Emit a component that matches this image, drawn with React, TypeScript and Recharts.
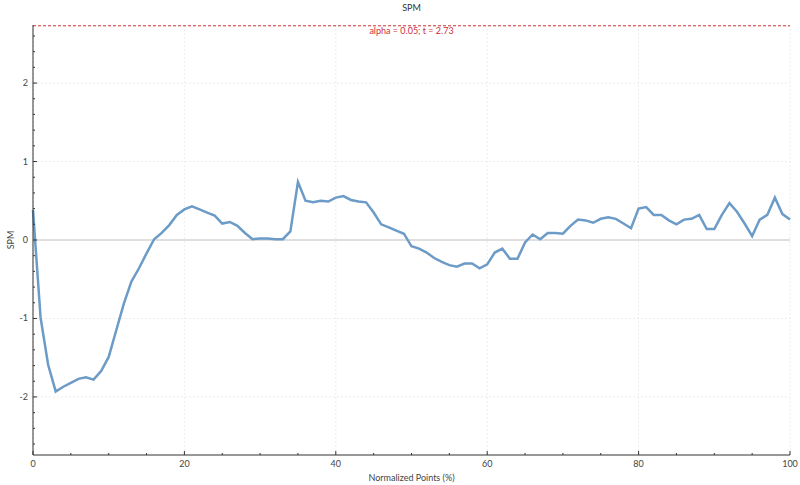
import React from 'react';
import { LineChart, Line, XAxis, YAxis, ReferenceLine } from 'recharts';

// SPM{t} trajectory, one value per normalized point (0..100 %)
const spmValues = [
  0.38, -0.99, -1.59, -1.93, -1.87, -1.82, -1.77, -1.75, -1.78, -1.67,
  -1.49, -1.15, -0.81, -0.53, -0.36, -0.17, 0.01, 0.09, 0.19, 0.32,
  0.39, 0.43, 0.39, 0.35, 0.31, 0.21, 0.23, 0.18, 0.09, 0.01,
  0.02, 0.02, 0.01, 0.01, 0.11, 0.74, 0.5, 0.48, 0.5, 0.49,
  0.54, 0.56, 0.51, 0.49, 0.48, 0.35, 0.2, 0.16, 0.12, 0.08,
  -0.08, -0.11, -0.16, -0.23, -0.28, -0.32, -0.34, -0.3, -0.3, -0.36,
  -0.31, -0.16, -0.11, -0.24, -0.24, -0.03, 0.07, 0.01, 0.09, 0.09,
  0.08, 0.18, 0.26, 0.25, 0.22, 0.27, 0.29, 0.27, 0.21, 0.15,
  0.4, 0.42, 0.32, 0.32, 0.25, 0.2, 0.26, 0.27, 0.32, 0.14,
  0.14, 0.32, 0.47, 0.36, 0.21, 0.05, 0.26, 0.32, 0.54, 0.33,
  0.26,
];

const xTicks = [0, 5, 10, 15, 20, 25, 30, 35, 40, 45, 50, 55, 60, 65, 70, 75, 80, 85, 90, 95, 100];
const xMajor = [0, 20, 40, 60, 80, 100];
const yTicks = [-2.6, -2.4, -2.2, -2, -1.8, -1.6, -1.4, -1.2, -1, -0.8, -0.6, -0.4, -0.2, 0,
  0.2, 0.4, 0.6, 0.8, 1, 1.2, 1.4, 1.6, 1.8, 2, 2.2, 2.4, 2.6];
const yMajor = [-2, -1, 0, 1, 2];
const yDomain = [-2.74, 2.74];

const threshold = 2.73;
const thresholdLabel = 'alpha = 0.05; t = 2.73';

const data = spmValues.map((v, i) => ({ x: i, spm: v }));

const FONT = 'Lato, "Open Sans", sans-serif';
const FS = 9;
const TICK_COLOR = '#444';

const XTick = (props: any) => {
  const { x, y, payload } = props;
  const major = xMajor.includes(payload.value);
  return (
    <g>
      <line x1={x} x2={x} y1={y} y2={y - (major ? 4 : 2)} stroke="#333" />
      {major && (
        <text x={x} y={y + 12} textAnchor="middle" fontSize={FS} fill={TICK_COLOR} fontFamily={FONT}>
          {payload.value}
        </text>
      )}
    </g>
  );
};

const YTick = (props: any) => {
  const { x, y, payload } = props;
  const major = yMajor.includes(payload.value);
  return (
    <g>
      <line x1={x} x2={x + (major ? 4 : 2)} y1={y} y2={y} stroke="#333" />
      {major && (
        <text x={x - 5} y={y + 3} textAnchor="end" fontSize={FS} fill={TICK_COLOR} fontFamily={FONT}>
          {payload.value}
        </text>
      )}
    </g>
  );
};

export default function App() {
  return (
    <div style={{ position: 'absolute', left: 0, top: 0, width: 800, height: 485, background: '#fff' }}>
      <div
        style={{
          position: 'absolute', left: 33, width: 757, top: 2, textAlign: 'center',
          fontSize: FS, fontFamily: FONT, color: '#333',
        }}
      >
        SPM
      </div>
      <LineChart width={800} height={485} data={data} margin={{ top: 25, right: 10, bottom: 0, left: 0 }}>
        {xMajor.map((v) => (
          <ReferenceLine key={'gx' + v} x={v} stroke="#ececec" strokeDasharray="2 2" />
        ))}
        {yMajor.map((v) => (
          <ReferenceLine key={'gy' + v} y={v} stroke="#ececec" strokeDasharray="2 2" />
        ))}
        <ReferenceLine y={0} stroke="#c4c4c4" strokeWidth={1} />
        <XAxis
          dataKey="x"
          type="number"
          domain={[0, 100]}
          ticks={xTicks}
          interval={0}
          tickSize={0}
          tickMargin={0}
          tickLine={false}
          tick={<XTick />}
          stroke="#333"
          height={30}
          label={{
            value: 'Normalized Points (%)', position: 'insideBottom', offset: 4,
            fontSize: FS, fill: TICK_COLOR, fontFamily: FONT,
          }}
        />
        <YAxis
          type="number"
          domain={yDomain}
          allowDataOverflow
          ticks={yTicks}
          interval={0}
          tickSize={0}
          tickMargin={0}
          tickLine={false}
          tick={<YTick />}
          stroke="#333"
          width={33}
          label={{
            content: (p: any) => {
              const vb = p.viewBox;
              const cx = 10;
              const cy = vb.y + vb.height / 2;
              return (
                <text
                  x={cx} y={cy} transform={`rotate(-90, ${cx}, ${cy})`} textAnchor="middle"
                  dominantBaseline="central" fontSize={FS} fill={TICK_COLOR} fontFamily={FONT}
                >
                  SPM
                </text>
              );
            },
          }}
        />
        <ReferenceLine
          y={threshold}
          stroke="#d03030"
          strokeDasharray="3 2"
          label={{
            value: thresholdLabel, position: 'bottom', offset: 2,
            fontSize: FS, fill: '#cc3040', fontFamily: FONT,
          }}
        />
        <Line
          type="linear"
          dataKey="spm"
          stroke="#6b9bc6"
          strokeWidth={2.5}
          dot={false}
          isAnimationActive={false}
        />
      </LineChart>
    </div>
  );
}
